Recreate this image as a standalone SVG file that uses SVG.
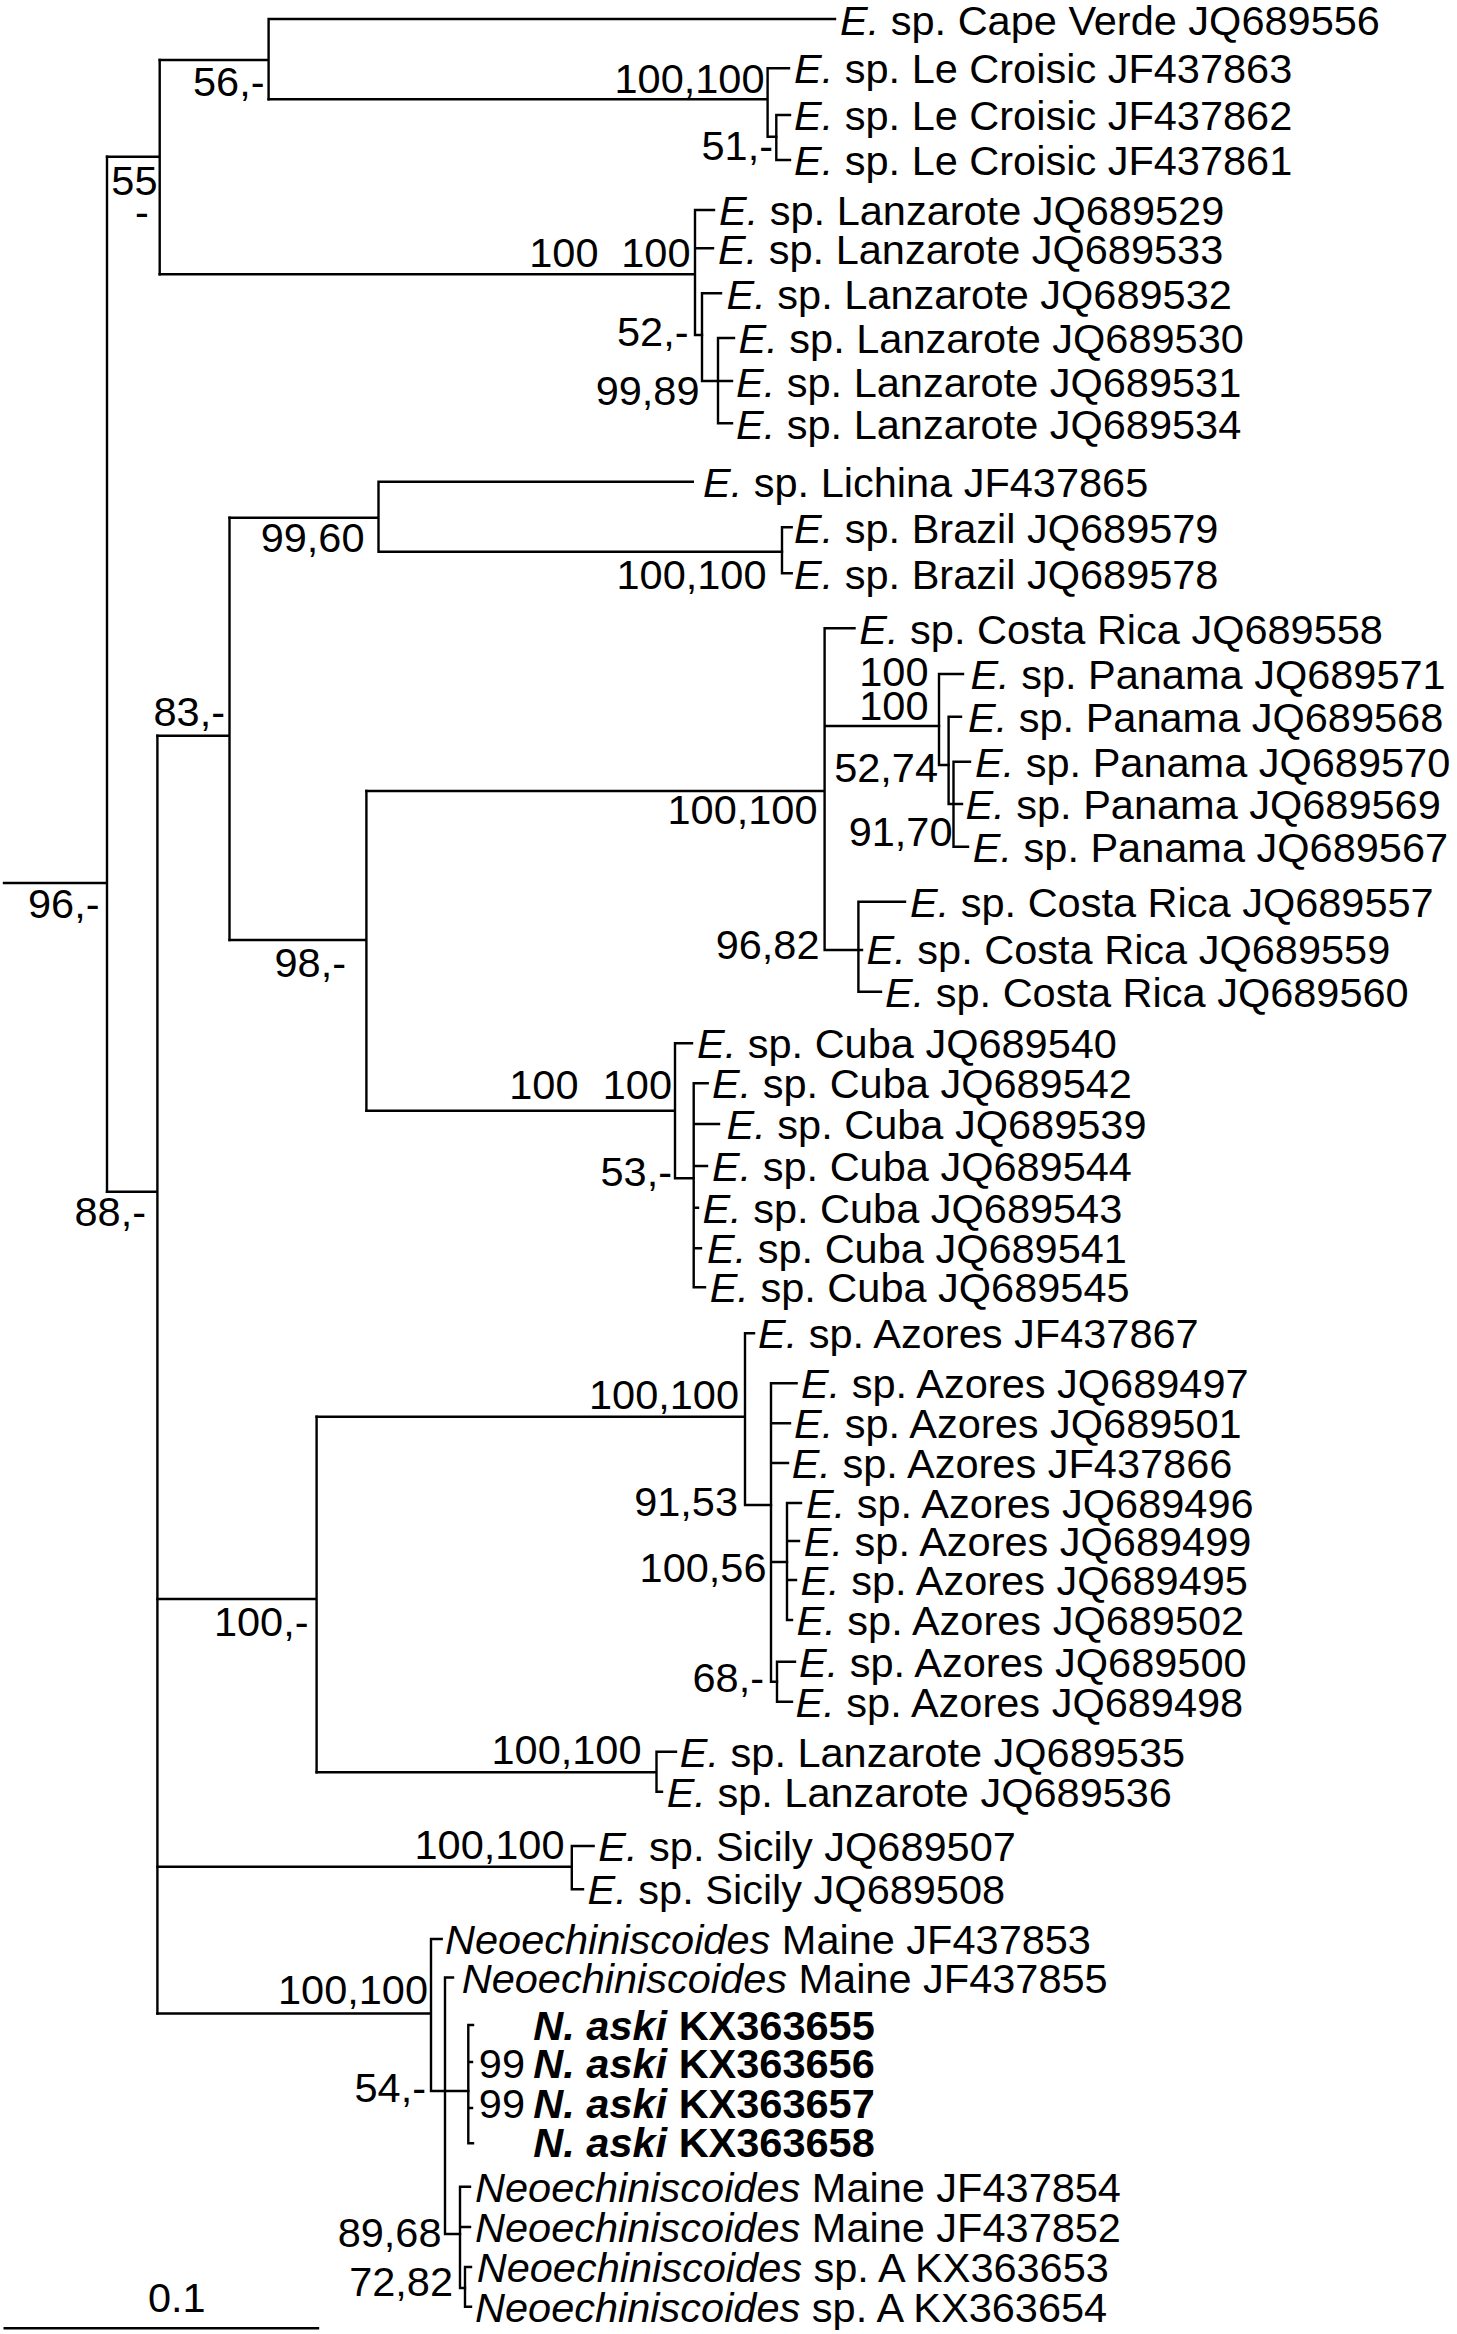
<svg xmlns="http://www.w3.org/2000/svg" width="1457" height="2334" viewBox="0 0 1457 2334">
<style>
text{font-family:"Liberation Sans",Arial,Helvetica,sans-serif;font-size:41.5px;fill:#000}
.s{text-anchor:end}
.i{font-style:italic}
.b{font-weight:bold}
.br{fill:none;stroke:#000;stroke-width:2.4;stroke-linecap:square}
</style>
<rect width="1457" height="2334" fill="#fff"/>
<g id="connectors" class="br">
<path d="M4,883H107M107,156.7V1191.7"/>
<path d="M107,156.7H159.7M159.7,60V274.3"/>
<path d="M159.7,60H268.6M268.6,19V99.3M268.6,19H835"/>
<path d="M268.6,99.3H767.6M767.6,68.3V136.7M767.6,68.3H789M767.6,136.7H776.3"/>
<path d="M776.3,115V160M776.3,115H790M776.3,160H790"/>
<path d="M159.7,274.3H695M695,210V335M695,210H714M695,248.3H713M695,335H702"/>
<path d="M702,293.3V381M702,293.3H721M702,381H732"/>
<path d="M718,338V423.3M718,338H734M718,423.3H732"/>
<path d="M107,1191.7H157.4M157.4,735.7V2013.5"/>
<path d="M157.4,735.7H229.5M229.5,517.7V940"/>
<path d="M229.5,517.7H378.5M378.5,481.7V551.7M378.5,481.7H692.8M378.5,551.7H782"/>
<path d="M782,527.3V573.3M782,527.3H791.7M782,573.3H791.7"/>
<path d="M229.5,940H366.4M366.4,791V1110.7"/>
<path d="M366.4,791H824.6M824.6,628.3V950M824.6,628.3H854.5M824.6,726H939M824.6,950H862"/>
<path d="M939,674V765M939,674H963M939,765H948.6"/>
<path d="M948.6,716.7V804M948.6,716.7H961M948.6,804H962"/>
<path d="M953.5,761.7V846.7M953.5,761.7H970M953.5,846.7H968"/>
<path d="M858.4,901.7V991.7M858.4,901.7H905M858.4,991.7H881"/>
<path d="M366.4,1110.7H675M675,1043.3V1178.3M675,1043.3H692M675,1178.3H693.7"/>
<path d="M693.7,1083.3V1287.3M693.7,1083.3H707.7M693.7,1124H719M693.7,1166H707M693.7,1207.7H698M693.7,1248.3H701M693.7,1287.3H705"/>
<path d="M157.4,1599H316.6M316.6,1416.7V1772.3"/>
<path d="M316.6,1416.7H745M745,1333.3V1505M745,1333.3H754M745,1505H771"/>
<path d="M771,1383.3V1681.7M771,1383.3H796.6M771,1423.3H790M771,1463H788M771,1562H787M771,1681.7H777"/>
<path d="M787,1503V1620M787,1503H801M787,1541H799M787,1580H796M787,1620H792"/>
<path d="M777,1661.7V1701.7M777,1661.7H795M777,1701.7H792"/>
<path d="M316.6,1772.3H656.5M656.5,1751.7V1791.7M656.5,1751.7H676M656.5,1791.7H662"/>
<path d="M157.4,1866.7H571.8M571.8,1846V1889.3M571.8,1846H593.6M571.8,1889.3H583"/>
<path d="M157.4,2013.5H431M431,1939V2091M431,1939H441.7M431,2091H468.3"/>
<path d="M445,1977.5V2234M445,1977.5H453M445,2234H460"/>
<path d="M468.3,2025V2143.3M468.3,2025H473M468.3,2062H472M468.3,2108H472M468.3,2143.3H473"/>
<path d="M460,2186.7V2288M460,2186.7H470M460,2227H470M460,2288H465"/>
<path d="M465,2267V2306.7M465,2267H471M465,2306.7H471"/>
</g>
<g id="scale-bar">
<path class="br" d="M4.7,2328.3H318"/>
<text x="148" y="2312">0.1</text>
</g>
<g id="support-values">
<text class="s" x="99.5" y="918">96,-</text>
<text class="s" x="264.5" y="96">56,-</text>
<text class="s" x="157.5" y="195">55</text>
<text x="142" y="226" text-anchor="middle">-</text>
<text class="s" x="764.5" y="93">100,100</text>
<text class="s" x="773" y="160">51,-</text>
<text class="s" x="598.5" y="267">100</text>
<text class="s" x="690.5" y="267">100</text>
<text class="s" x="688.5" y="346">52,-</text>
<text class="s" x="699.5" y="405">99,89</text>
<text class="s" x="364.5" y="552">99,60</text>
<text class="s" x="766.5" y="589">100,100</text>
<text class="s" x="225" y="726">83,-</text>
<text class="s" x="928.5" y="686">100</text>
<text class="s" x="928.5" y="720">100</text>
<text class="s" x="938" y="782">52,74</text>
<text class="s" x="817.5" y="824">100,100</text>
<text class="s" x="952.5" y="846">91,70</text>
<text class="s" x="819.5" y="959">96,82</text>
<text class="s" x="346" y="977">98,-</text>
<text class="s" x="578.5" y="1099">100</text>
<text class="s" x="672" y="1099">100</text>
<text class="s" x="672" y="1186">53,-</text>
<text class="s" x="146" y="1226">88,-</text>
<text class="s" x="739" y="1409">100,100</text>
<text class="s" x="738" y="1516">91,53</text>
<text class="s" x="766.5" y="1582">100,56</text>
<text class="s" x="308.5" y="1636">100,-</text>
<text class="s" x="764" y="1692">68,-</text>
<text class="s" x="641.5" y="1764">100,100</text>
<text class="s" x="564.5" y="1859">100,100</text>
<text class="s" x="428" y="2004">100,100</text>
<text class="s" x="426" y="2102">54,-</text>
<text class="s" x="525" y="2078">99</text>
<text class="s" x="525" y="2118">99</text>
<text class="s" x="441.5" y="2247">89,68</text>
<text class="s" x="453" y="2296">72,82</text>
</g>
<g id="t-JQ689556"><text x="840" y="34.5"><tspan class="i">E.</tspan> sp. Cape Verde JQ689556</text></g>
<g id="t-JF437863"><text x="794" y="83"><tspan class="i">E.</tspan> sp. Le Croisic JF437863</text></g>
<g id="t-JF437862"><text x="794" y="130"><tspan class="i">E.</tspan> sp. Le Croisic JF437862</text></g>
<g id="t-JF437861"><text x="794" y="175"><tspan class="i">E.</tspan> sp. Le Croisic JF437861</text></g>
<g id="t-JQ689529"><text x="719" y="225"><tspan class="i">E.</tspan> sp. Lanzarote JQ689529</text></g>
<g id="t-JQ689533"><text x="718" y="263.5"><tspan class="i">E.</tspan> sp. Lanzarote JQ689533</text></g>
<g id="t-JQ689532"><text x="726.6" y="308.5"><tspan class="i">E.</tspan> sp. Lanzarote JQ689532</text></g>
<g id="t-JQ689530"><text x="738.6" y="353"><tspan class="i">E.</tspan> sp. Lanzarote JQ689530</text></g>
<g id="t-JQ689531"><text x="736" y="396.5"><tspan class="i">E.</tspan> sp. Lanzarote JQ689531</text></g>
<g id="t-JQ689534"><text x="736" y="438.5"><tspan class="i">E.</tspan> sp. Lanzarote JQ689534</text></g>
<g id="t-JF437865"><text x="703" y="497"><tspan class="i">E.</tspan> sp. Lichina JF437865</text></g>
<g id="t-JQ689579"><text x="794" y="542.5"><tspan class="i">E.</tspan> sp. Brazil JQ689579</text></g>
<g id="t-JQ689578"><text x="794" y="588.5"><tspan class="i">E.</tspan> sp. Brazil JQ689578</text></g>
<g id="t-JQ689558"><text x="859.3" y="643.5"><tspan class="i">E.</tspan> sp. Costa Rica JQ689558</text></g>
<g id="t-JQ689571"><text x="970.4" y="689"><tspan class="i">E.</tspan> sp. Panama JQ689571</text></g>
<g id="t-JQ689568"><text x="968" y="731.7"><tspan class="i">E.</tspan> sp. Panama JQ689568</text></g>
<g id="t-JQ689570"><text x="975" y="776.7"><tspan class="i">E.</tspan> sp. Panama JQ689570</text></g>
<g id="t-JQ689569"><text x="965.5" y="818.5"><tspan class="i">E.</tspan> sp. Panama JQ689569</text></g>
<g id="t-JQ689567"><text x="972.8" y="861.7"><tspan class="i">E.</tspan> sp. Panama JQ689567</text></g>
<g id="t-JQ689557"><text x="910" y="916.7"><tspan class="i">E.</tspan> sp. Costa Rica JQ689557</text></g>
<g id="t-JQ689559"><text x="866.6" y="963.5"><tspan class="i">E.</tspan> sp. Costa Rica JQ689559</text></g>
<g id="t-JQ689560"><text x="885" y="1006.7"><tspan class="i">E.</tspan> sp. Costa Rica JQ689560</text></g>
<g id="t-JQ689540"><text x="697" y="1058.3"><tspan class="i">E.</tspan> sp. Cuba JQ689540</text></g>
<g id="t-JQ689542"><text x="712" y="1098.3"><tspan class="i">E.</tspan> sp. Cuba JQ689542</text></g>
<g id="t-JQ689539"><text x="726.6" y="1139"><tspan class="i">E.</tspan> sp. Cuba JQ689539</text></g>
<g id="t-JQ689544"><text x="712" y="1181"><tspan class="i">E.</tspan> sp. Cuba JQ689544</text></g>
<g id="t-JQ689543"><text x="702.4" y="1222.7"><tspan class="i">E.</tspan> sp. Cuba JQ689543</text></g>
<g id="t-JQ689541"><text x="707" y="1263.3"><tspan class="i">E.</tspan> sp. Cuba JQ689541</text></g>
<g id="t-JQ689545"><text x="709.7" y="1302.3"><tspan class="i">E.</tspan> sp. Cuba JQ689545</text></g>
<g id="t-JF437867"><text x="758" y="1348.3"><tspan class="i">E.</tspan> sp. Azores JF437867</text></g>
<g id="t-JQ689497"><text x="801" y="1398.3"><tspan class="i">E.</tspan> sp. Azores JQ689497</text></g>
<g id="t-JQ689501"><text x="794" y="1438.3"><tspan class="i">E.</tspan> sp. Azores JQ689501</text></g>
<g id="t-JF437866"><text x="791.7" y="1478"><tspan class="i">E.</tspan> sp. Azores JF437866</text></g>
<g id="t-JQ689496"><text x="806" y="1518"><tspan class="i">E.</tspan> sp. Azores JQ689496</text></g>
<g id="t-JQ689499"><text x="803.8" y="1556"><tspan class="i">E.</tspan> sp. Azores JQ689499</text></g>
<g id="t-JQ689495"><text x="800.4" y="1595"><tspan class="i">E.</tspan> sp. Azores JQ689495</text></g>
<g id="t-JQ689502"><text x="796.6" y="1635"><tspan class="i">E.</tspan> sp. Azores JQ689502</text></g>
<g id="t-JQ689500"><text x="799" y="1676.7"><tspan class="i">E.</tspan> sp. Azores JQ689500</text></g>
<g id="t-JQ689498"><text x="795.6" y="1716.7"><tspan class="i">E.</tspan> sp. Azores JQ689498</text></g>
<g id="t-JQ689535"><text x="679.8" y="1766.7"><tspan class="i">E.</tspan> sp. Lanzarote JQ689535</text></g>
<g id="t-JQ689536"><text x="666.7" y="1806.7"><tspan class="i">E.</tspan> sp. Lanzarote JQ689536</text></g>
<g id="t-JQ689507"><text x="598.3" y="1861"><tspan class="i">E.</tspan> sp. Sicily JQ689507</text></g>
<g id="t-JQ689508"><text x="587.6" y="1904.3"><tspan class="i">E.</tspan> sp. Sicily JQ689508</text></g>
<g id="t-JF437853"><text x="445" y="1954"><tspan class="i">Neoechiniscoides</tspan> Maine JF437853</text></g>
<g id="t-JF437855"><text x="461.7" y="1992.5"><tspan class="i">Neoechiniscoides</tspan> Maine JF437855</text></g>
<g id="t-KX363655"><text class="b" x="533.3" y="2040"><tspan class="i">N. aski</tspan> KX363655</text></g>
<g id="t-KX363656"><text class="b" x="533.3" y="2078"><tspan class="i">N. aski</tspan> KX363656</text></g>
<g id="t-KX363657"><text class="b" x="533.3" y="2118"><tspan class="i">N. aski</tspan> KX363657</text></g>
<g id="t-KX363658"><text class="b" x="533.3" y="2157"><tspan class="i">N. aski</tspan> KX363658</text></g>
<g id="t-JF437854"><text x="475" y="2201.7"><tspan class="i">Neoechiniscoides</tspan> Maine JF437854</text></g>
<g id="t-JF437852"><text x="475" y="2242"><tspan class="i">Neoechiniscoides</tspan> Maine JF437852</text></g>
<g id="t-KX363653"><text x="476.7" y="2282"><tspan class="i">Neoechiniscoides</tspan> sp. A KX363653</text></g>
<g id="t-KX363654"><text x="475" y="2321.7"><tspan class="i">Neoechiniscoides</tspan> sp. A KX363654</text></g>
</svg>
